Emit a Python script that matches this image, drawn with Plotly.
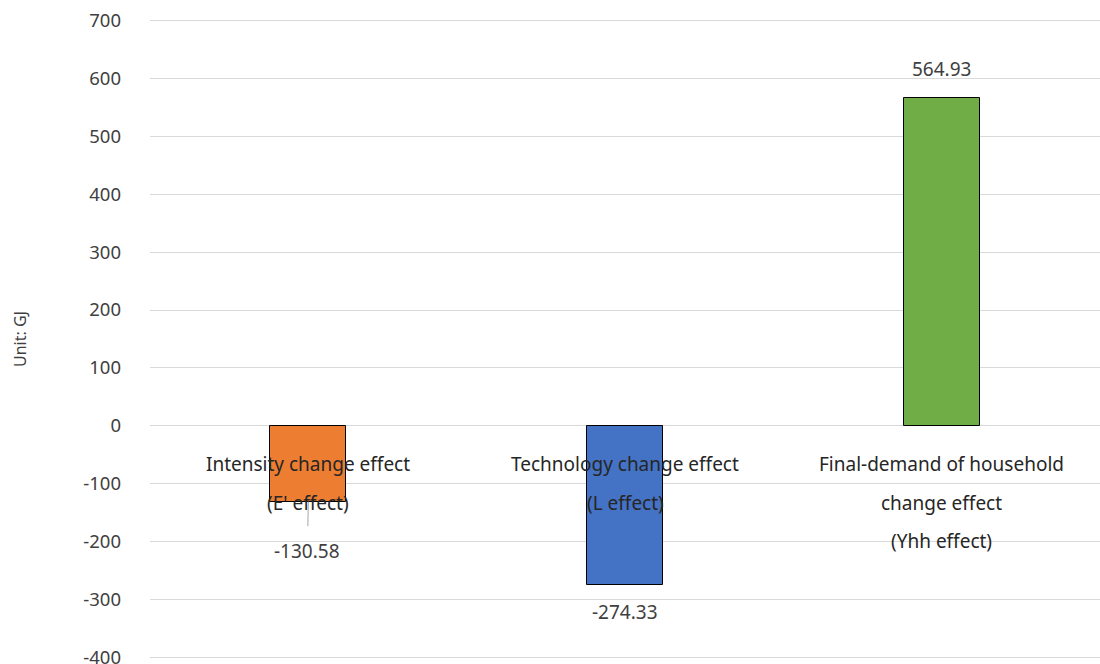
import plotly.graph_objects as go

categories = ["Intensity change effect", "Technology change effect", "Final-demand of household"]
label_lines = [
    ["Intensity change effect", "(E' effect)"],
    ["Technology change effect", "(L effect)"],
    ["Final-demand of household", "change effect", "(Yhh effect)"],
]
values = [-130.58, -274.33, 564.93]
colors = ["#ED7D31", "#4472C4", "#70AD47"]
value_labels = ["-130.58", "-274.33", "564.93"]
y_ticks = [-400, -300, -200, -100, 0, 100, 200, 300, 400, 500, 600, 700]

FONT = "Noto Sans"
TXT = "#404040"

fig = go.Figure()
fig.add_trace(go.Bar(
    x=categories, y=values,
    marker=dict(color=colors, line=dict(color="#000000", width=1)),
    width=0.24, showlegend=False, hoverinfo="skip",
))

annotations = []
# category labels at y=0
for cat, lines in zip(categories, label_lines):
    for i, ln in enumerate(lines):
        annotations.append(dict(
            x=cat, y=0, xref="x", yref="y", text=ln, showarrow=False,
            yshift=-38.5 * (i + 1), yanchor="middle", xanchor="center",
            font=dict(family=FONT, size=19, color="#262626"),
        ))

# value labels
for k, (cat, v, t) in enumerate(zip(categories, values, value_labels)):
    if k == 0:
        annotations.append(dict(
            x=cat, y=v, xref="x", yref="y", text=t, showarrow=True,
            ax=-1, ay=49, arrowhead=0, arrowwidth=1, arrowcolor="#a6a6a6",
            startstandoff=10,
            font=dict(family=FONT, size=19, color=TXT),
        ))
    else:
        shift = 29 if v > 0 else -27
        annotations.append(dict(
            x=cat, y=v, xref="x", yref="y", text=t, showarrow=False,
            yshift=shift, yanchor="middle",
            font=dict(family=FONT, size=19, color=TXT),
        ))

fig.update_layout(
    width=1100, height=664,
    margin=dict(l=150, r=0, t=19, b=5),
    plot_bgcolor="white", paper_bgcolor="white",
    font=dict(family=FONT, size=16, color=TXT),
    annotations=annotations,
    bargap=0,
)
fig.update_xaxes(showticklabels=False, showline=False, showgrid=False, zeroline=False, automargin=False)
fig.update_yaxes(
    range=[-402, 702], tickvals=y_ticks, ticktext=[str(v) for v in y_ticks],
    showgrid=True, gridcolor="#d9d9d9", gridwidth=1,
    zeroline=True, zerolinecolor="#d9d9d9", zerolinewidth=1,
    showline=False, ticks="", ticklabelstandoff=28, ticklabeloverflow="allow",
    automargin=False,
    tickfont=dict(family=FONT, size=18.5, color=TXT),
    title=dict(text="Unit: GJ", font=dict(family=FONT, size=16, color=TXT), standoff=52),
)

fig.write_html("out.html")
